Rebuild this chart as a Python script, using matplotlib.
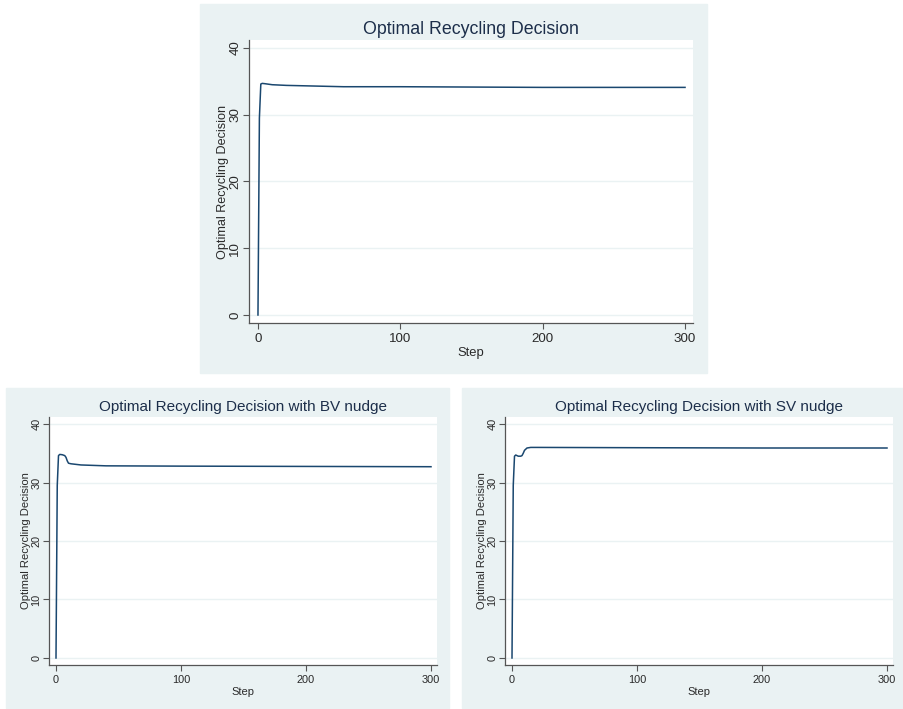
"""
Optimal recycling decision over simulation steps: baseline, BV nudge, SV nudge
"""
import matplotlib.pyplot as plt
from matplotlib.patches import Rectangle

plt.rcParams['font.family'] = ['Liberation Sans', 'DejaVu Sans']

# baseline run
steps_base = [0, 1, 2, 3, 5, 10, 20, 40, 60, 100, 150, 200, 250, 300]
decision_base = [0, 29.5, 34.6, 34.7, 34.65, 34.5, 34.4, 34.3, 34.2, 34.2,
                 34.15, 34.1, 34.1, 34.1]

# with BV nudge
steps_bv = [0, 1, 2, 3, 5, 7, 8, 9, 10, 12, 20, 40, 100, 200, 300]
decision_bv = [0, 29.5, 34.6, 34.8, 34.75, 34.6, 34.3, 33.7, 33.3, 33.2,
               33.0, 32.85, 32.8, 32.75, 32.7]

# with SV nudge
steps_sv = [0, 1, 2, 3, 4, 5, 7, 8, 9, 10, 12, 15, 20, 100, 200, 300]
decision_sv = [0, 29.5, 34.5, 34.7, 34.6, 34.5, 34.5, 34.6, 35.0, 35.5,
               35.9, 36.0, 36.0, 35.95, 35.9, 35.9]

titles = ['Optimal Recycling Decision',
          'Optimal Recycling Decision with BV nudge',
          'Optimal Recycling Decision with SV nudge']
xticks = [0, 100, 200, 300]
yticks = [0, 10, 20, 30, 40]

W, H = 904, 709
BG = '#eaf2f3'
NAVY = '#1a476f'
TXT = '#2a2a2a'

fig = plt.figure(figsize=(W / 100, H / 100), dpi=100)


def px(x0, y0, x1, y1):
    return [x0 / W, 1 - y1 / H, (x1 - x0) / W, (y1 - y0) / H]


# (panel box, plot box, title size, tick size, x label size, y label size, xlim)
panels = [
    ((200, 4, 707, 373), (249, 40, 693, 323), 12.8, 9.6, 9.4, 9.1, (-6.3, 305.6)),
    ((6, 388, 449, 708), (49, 417, 437, 665), 11, 7.9, 8, 8.1, (-5.6, 304.8)),
    ((462, 388, 903, 708), (505, 417, 893, 665), 11, 7.9, 8, 8.1, (-5.6, 304.8)),
]
series = [(steps_base, decision_base), (steps_bv, decision_bv),
          (steps_sv, decision_sv)]

for (pbox, abox, tsize, ksize, xsize, ysize, xlim), (xs, ys), title in zip(panels, series, titles):
    fig.patches.append(Rectangle((pbox[0] / W, 1 - pbox[3] / H),
                                 (pbox[2] - pbox[0]) / W, (pbox[3] - pbox[1]) / H,
                                 transform=fig.transFigure, color=BG, zorder=-5))
    ax = fig.add_axes(px(*abox))
    ax.set_facecolor('white')
    ax.plot(xs, ys, color=NAVY, lw=1.1)
    ax.set_xlim(*xlim)
    ax.set_ylim(-1.2, 41.2)
    ax.set_xticks(xticks)
    ax.set_yticks(yticks)
    ax.grid(axis='y', color=BG, lw=1.0)
    ax.set_axisbelow(True)
    for side in ('top', 'right'):
        ax.spines[side].set_visible(False)
    for side in ('left', 'bottom'):
        ax.spines[side].set_color('#555555')
        ax.spines[side].set_linewidth(0.9)
    ax.tick_params(colors='#555555', labelcolor=TXT, labelsize=ksize,
                   length=4.5, width=0.8, pad=2)
    ax.tick_params(axis='y', pad=1)
    ax.tick_params(axis='x', pad=3)
    plt.setp(ax.get_yticklabels(), rotation=90, va='center')
    ax.set_title(title, fontsize=tsize, color='#1c2e4a', pad=4)
    ax.set_xlabel('Step', fontsize=xsize, color=TXT, labelpad=1)
    ax.set_ylabel('Optimal Recycling Decision', fontsize=ysize,
                  color=TXT, labelpad=0.5)

fig.savefig('out.png', dpi=100, facecolor='white')
